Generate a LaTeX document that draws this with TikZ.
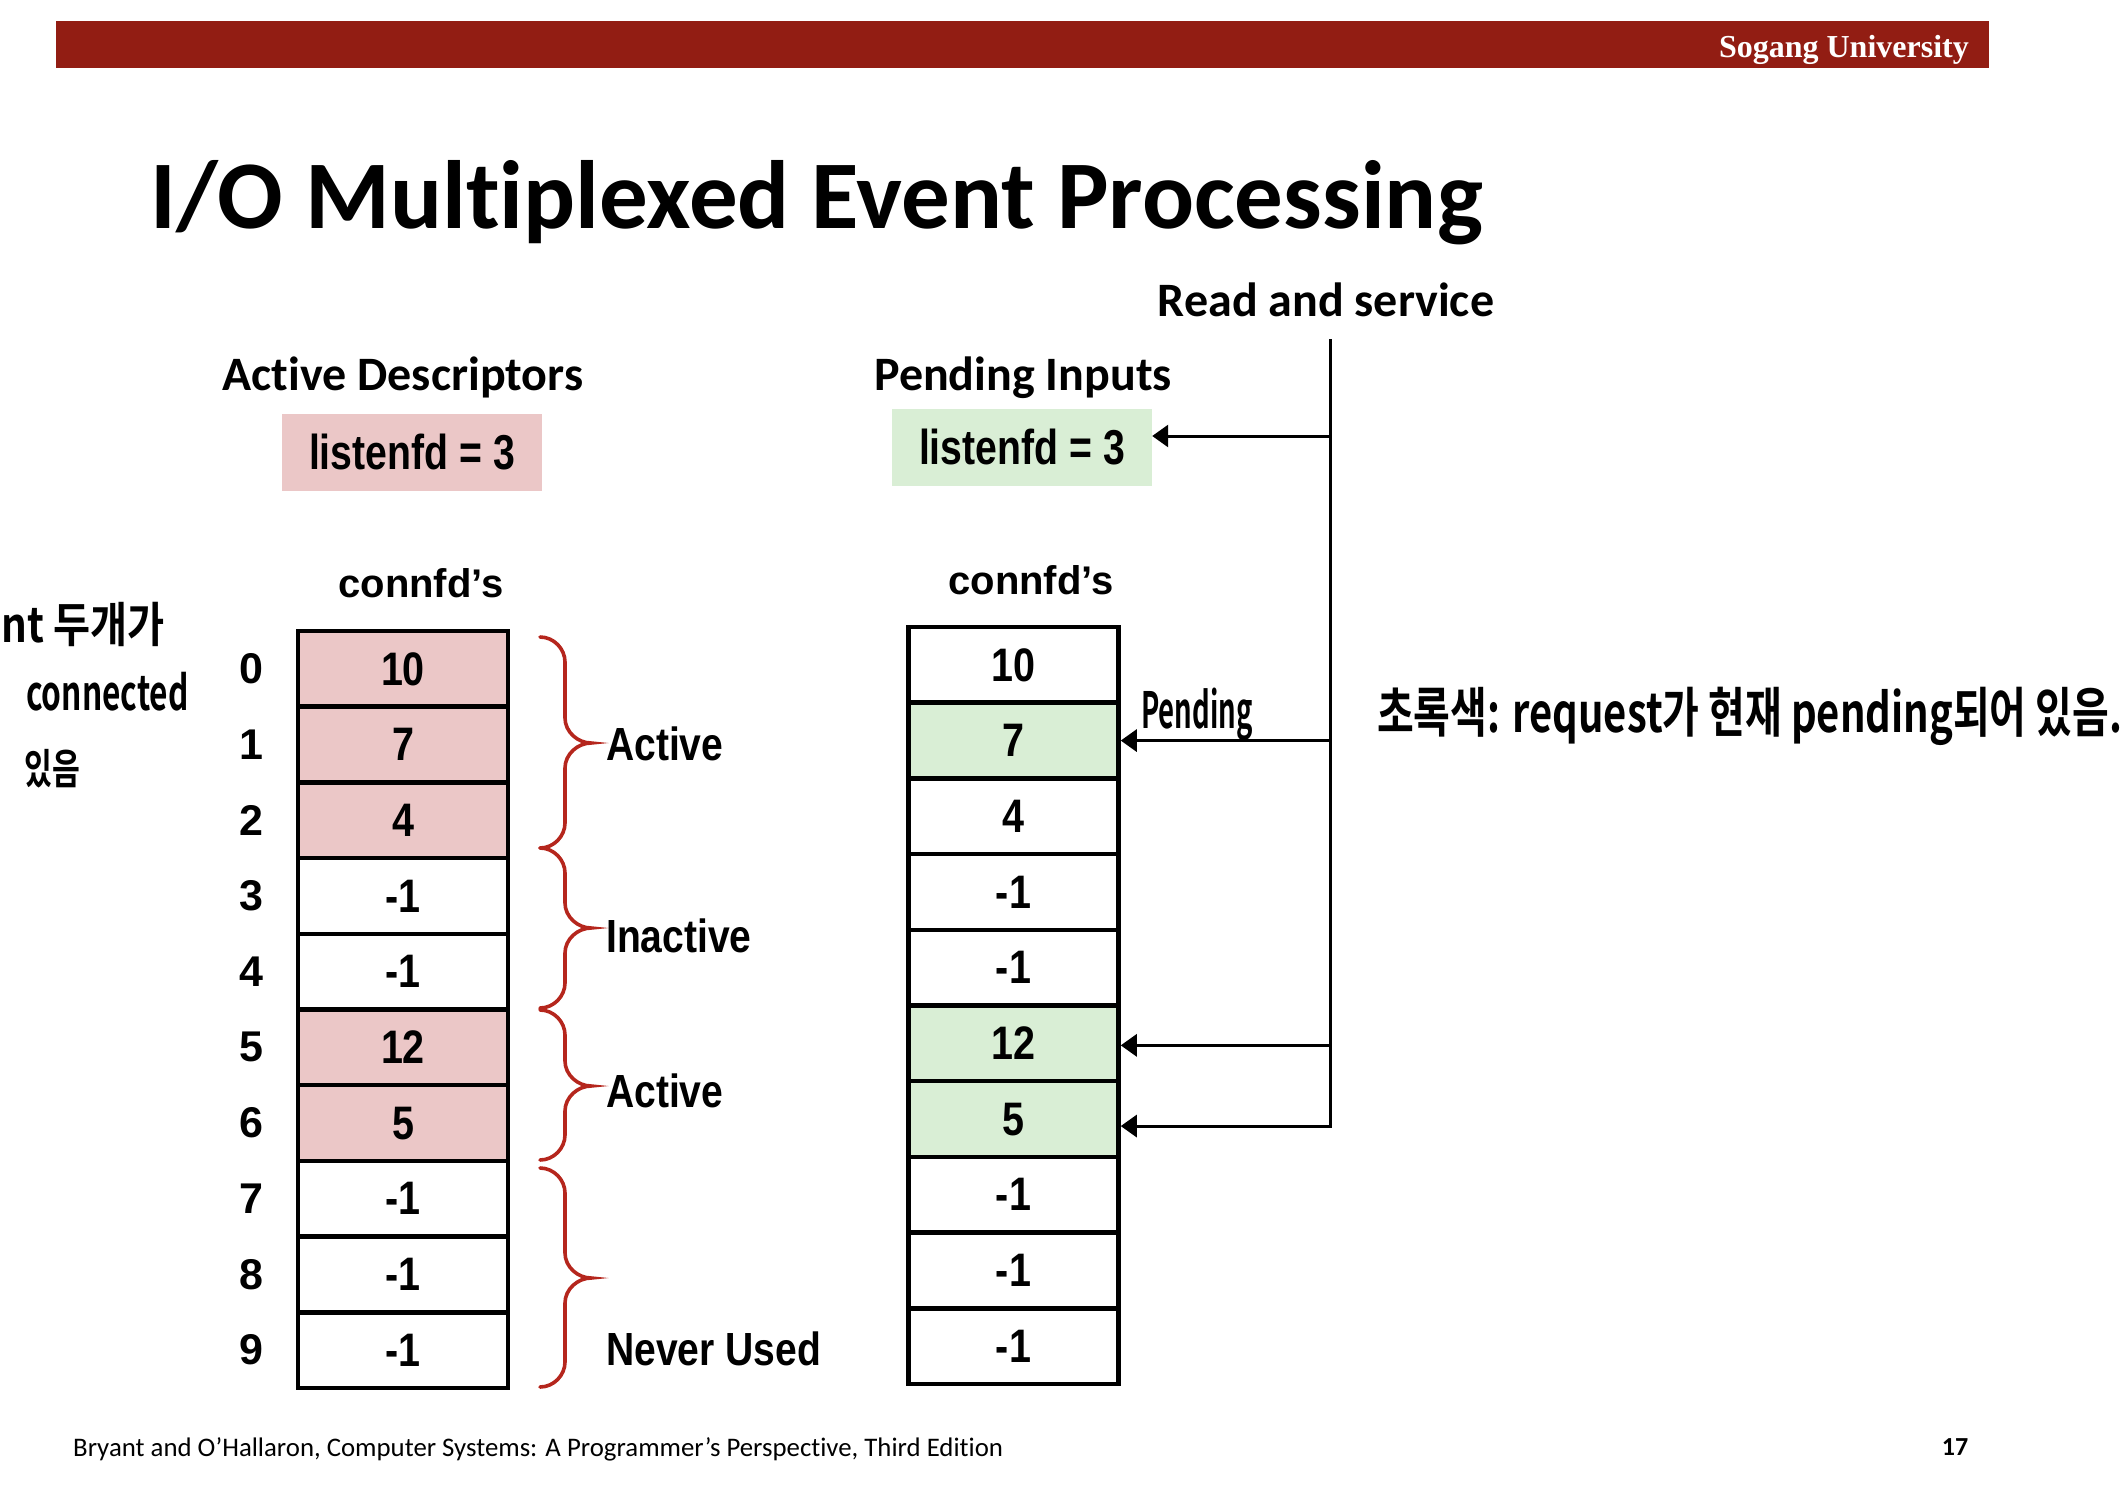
\documentclass[tikz,border=0pt]{standalone}
\usepackage{fontspec}
\setmainfont{Carlito}[Ligatures=NoCommon]
\newfontfamily\arialbold{Liberation Sans Bold}
\newfontfamily\narrowbold{Liberation Sans Bold}[FakeStretch=0.84]
\newfontfamily\narrowboldb{Liberation Sans Bold}[FakeStretch=0.80]
\newfontfamily\serifbold{Liberation Serif Bold}
\newfontfamily\handfont{Noto Sans CJK KR}[BoldFont={Noto Sans CJK KR Bold}]
\usetikzlibrary{arrows.meta,calc}

\definecolor{barred}{RGB}{146,29,19}
\definecolor{bracered}{RGB}{181,38,29}
\definecolor{pinkfill}{RGB}{235,199,199}
\definecolor{greenfill}{RGB}{217,238,213}

\newcommand{\setfs}[1]{\fontsize{#1}{#1}\selectfont}

% right curly brace: x of the ends, top, tip, bottom
\newcommand{\curlybrace}[4]{%
  \draw[bracestyle] (#1,#2) .. controls +(14,0) and +(0,-13) .. (#1+25,#2+25)
    -- (#1+25,#3-25) .. controls +(0,14) and +(-13,0) .. (#1+51,#3)
    .. controls +(-13,0) and +(0,-14) .. (#1+25,#3+25)
    -- (#1+25,#4-25) .. controls +(0,13) and +(14,0) .. (#1,#4);}

\tikzset{
  cell/.style={draw, line width=4.5pt, minimum width=210pt, minimum height=75.7pt,
    inner sep=0pt, font=\narrowbold\setfs{47}},
  idx/.style={inner sep=0pt, font=\arialbold\setfs{43}},
  heading/.style={inner sep=0pt, font=\bfseries\setfs{48}},
  colhead/.style={inner sep=0pt, font=\arialbold\setfs{40}},
  listenbox/.style={minimum width=260pt, minimum height=77pt, inner sep=0pt,
    font=\narrowboldb\setfs{49}},
  grouplabel/.style={inner sep=0pt, anchor=west, font=\narrowbold\setfs{46.5}},
  bracestyle/.style={draw=bracered, line width=3.6pt, line cap=round},
  arr/.style={draw, line width=3pt, -{Triangle[length=16pt,width=22pt]}},
  note/.style={inner sep=0pt},
}

\begin{document}
\begin{tikzpicture}[x=1pt,y=-1pt]
\useasboundingbox (0,0) rectangle (2128,1486);

% header bar
\node[fill=barred, minimum width=1933pt, minimum height=47pt, inner sep=0pt,
  anchor=north west] (bar) at (56,21) {};
\node[inner sep=0pt, anchor=base east, text=white, font=\serifbold\setfs{32}]
  (uni) at (1969,57) {Sogang University};

% title
\node[inner sep=0pt, anchor=base west, font=\bfseries\setfs{97}]
  (title) at (150,228) {I/O Multiplexed Event Processing};

% column headings
\node[heading] (hact) at (403,377) {Active Descriptors};
\node[heading] (hpend) at (1023,378) {Pending Inputs};
\node[heading] (hread) at (1326,300) {Read and service};

% listening descriptors
\node[listenbox, fill=pinkfill] (pl) at (412,452) {listenfd = 3};
\node[listenbox, fill=greenfill] (gl) at (1022,447) {listenfd = 3};

\node[colhead] (cl) at (421,583) {connfd’s};
\node[colhead] (cr) at (1031,580) {connfd’s};

% active descriptor array
\foreach \v/\c [count=\k from 0] in {10/pinkfill,7/pinkfill,4/pinkfill,-1/white,-1/white,
    12/pinkfill,5/pinkfill,-1/white,-1/white,-1/white}{
  \node[cell, fill=\c] (a\k) at (403,{631+75.7*(\k+0.5)}) {\v};
  \node[idx] (i\k) at (251,{631+75.7*(\k+0.5)}) {\k};
}

% pending input array
\foreach \v/\c [count=\k from 0] in {10/white,7/greenfill,4/white,-1/white,-1/white,
    12/greenfill,5/greenfill,-1/white,-1/white,-1/white}{
  \node[cell, fill=\c] (p\k) at (1013.5,{627+75.7*(\k+0.5)}) {\v};
}

% braces and group labels
\curlybrace{540}{637}{743}{848}
\curlybrace{540}{848}{928}{1008}
\curlybrace{540}{1010}{1086}{1160}
\curlybrace{540}{1168}{1278}{1387}
\node[grouplabel] (g1) at (606,744) {Active};
\node[grouplabel] (g2) at (606,936) {Inactive};
\node[grouplabel] (g3) at (606,1091) {Active};
\node[grouplabel] (g4) at (606,1349) {Never Used};

% read and service connectors
\coordinate (vtop) at (1330,339);
\coordinate (t0) at ([yshift=11pt]gl.east);
\coordinate (t1) at (p1.east);
\coordinate (t5) at ([yshift=-2pt]p5.east);
\coordinate (t6) at ([yshift=-7pt]p6.east);
\draw[arr] (vtop) |- (t6);
\draw[arr] (vtop |- t0) -- (t0);
\draw[arr] (vtop |- t1) -- (t1);
\draw[arr] (vtop |- t5) -- (t5);

% handwritten notes
\node[note, font=\handfont\bfseries\addfontfeature{FakeStretch=0.55}\setfs{50}] (pn) at (1197,714) {Pending};
\node[note, anchor=west, font=\handfont\bfseries\addfontfeature{FakeStretch=0.74}\setfs{54}]
  (gn) at (1377,716) {초록색: request가 현재 pending되어 있음.};
\node[note, anchor=west, font=\handfont\bfseries\addfontfeature{FakeStretch=0.84}\setfs{48}]
  (ln1) at (1,624) {nt 두개가};
\node[note, anchor=west, font=\handfont\bfseries\addfontfeature{FakeStretch=0.66}\setfs{48}]
  (ln2) at (26,692) {connected};
\node[note, anchor=west, font=\handfont\bfseries\addfontfeature{FakeStretch=0.72}\setfs{42}]
  (ln3) at (24,769) {있음};

% footer
\node[inner sep=0pt, anchor=west, font=\setfs{26.8}] (foot) at (73,1449)
  {Bryant and O’Hallaron, Computer Systems: A Programmer’s Perspective, Third Edition};
\node[inner sep=0pt, font=\bfseries\setfs{26}] (pg) at (1955,1447) {17};
\end{tikzpicture}
\end{document}
